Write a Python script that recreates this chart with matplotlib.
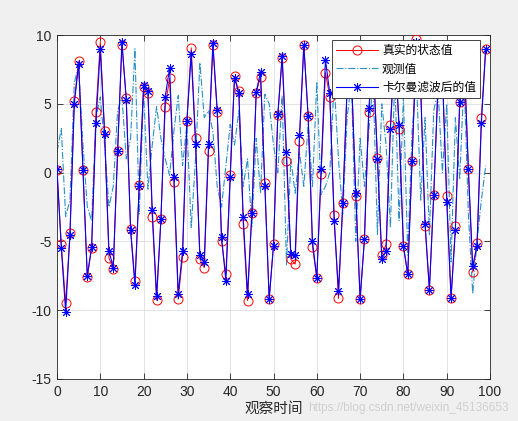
import matplotlib
matplotlib.use("Agg")
import matplotlib.pyplot as plt
import numpy as np

t = list(range(100))

true_state = [0.2, -5.2, -9.5, -4.4, 5.2, 8.1, 0.2, -7.6, -5.5, 4.4,
              9.5, 3.0, -6.2, -7.0, 1.6, 9.3, 5.4, -4.1, -7.9, -0.9,
              6.2, 5.75, -3.2, -9.27, -3.4, 4.8, 6.85, -0.7, -9.2, -6.1,
              3.75, 9.07, 2.5, -6.3, -6.9, 1.6, 9.27, 4.37, -5.0, -7.4,
              -0.2, 7.0, 5.9, -3.7, -9.3, -2.97, 5.8, 6.97, -0.74, -9.2,
              -5.2, 4.2, 8.35, 0.86, -6.3, -6.65, 2.3, 9.27, 4.1, -5.4,
              -7.65, -0.13, 7.27, 5.5, -3.05, -9.15, -2.24, 6.3, 7.2, -1.72,
              -9.2, -4.83, 4.37, 8.4, 1.03, -6.0, -5.2, 3.48, 9.3, 3.14,
              -5.35, -7.4, 0.87, 9.7, 6.0, -3.9, -8.5, -1.64, 6.5, 7.3,
              -1.7, -9.1, -3.9, 5.15, 8.6, 0.24, -7.25, -5.15, 4.0, 9.0]

observed = [1.5, 3.2, -3.2, -2.0, 6.5, 7.8, 2.0, -2.5, -3.5, 4.0,
            5.5, 2.0, -2.5, -1.0, 4.5, 5.5, 1.0, 2.5, 9.0, -3.0,
            5.9, -1.2, 2.0, 4.8, 2.5, 1.0, -0.2, 3.0, 5.6, 0.5,
            3.5, -4.0, 1.0, 8.0, 4.0, 4.5, 3.0, -1.0, -2.5, 0.5,
            3.5, 2.0, 4.5, -1.0, 1.0, -4.0, 2.5, -1.5, 5.7, 5.0,
            2.0, 0.0, 5.6, -6.7, 1.0, -1.5, 1.5, -1.0, 3.5, -1.0,
            6.6, -1.6, -1.0, 0.0, 6.6, 1.0, -3.0, 4.0, 6.6, -5.0,
            2.5, -1.0, 3.0, 6.6, -4.5, 5.0, 2.0, -4.0, 7.0, -3.5,
            5.5, -6.0, 3.0, 7.0, -2.0, 4.0, -4.5, 4.5, 6.0, 0.0,
            5.0, -6.5, 4.0, -0.5, 7.0, -3.0, -8.8, -5.0, -2.0, 0.5]

filtered = [0.23, -5.5, -10.1, -4.5, 5.0, 7.9, 0.2, -7.5, -5.4, 3.6,
            9.0, 2.8, -5.7, -6.9, 1.56, 9.5, 5.27, -4.2, -8.2, -0.96,
            6.35, 5.9, -2.7, -9.0, -3.4, 5.5, 7.6, -0.3, -8.8, -5.7,
            3.77, 8.6, 2.05, -6.0, -6.5, 2.1, 9.4, 4.55, -4.66, -7.86,
            -0.3, 6.9, 5.75, -3.2, -8.85, -2.97, 5.85, 7.3, -0.98, -9.2,
            -5.3, 4.25, 8.5, 1.47, -5.9, -6.0, 2.7, 9.27, 4.1, -5.0,
            -7.65, 0.27, 8.2, 5.75, -3.5, -8.6, -2.24, 6.2, 7.0, -1.5,
            -9.2, -4.83, 4.66, 8.3, 1.0, -6.3, -5.7, 3.2, 9.2, 3.45,
            -5.35, -7.4, 0.87, 9.5, 6.0, -3.7, -8.5, -1.64, 6.4, 7.2,
            -2.1, -9.1, -4.2, 5.15, 8.5, 0.24, -6.8, -5.3, 3.6, 9.0]

legend_labels = ["真实的状态值", "观测值", "卡尔曼滤波后的值"]
x_label = "观察时间"
watermark = "https://blog.csdn.net/weixin_45136653"

plt.rcParams['axes.unicode_minus'] = False
plt.rcParams['font.family'] = ['Liberation Sans', 'Noto Sans CJK SC', 'DejaVu Sans']

fig = plt.figure(figsize=(5.18, 4.21), dpi=100, facecolor='#f0f0f0')
ax = fig.add_axes([0.110, 0.0998, 0.836, 0.817])
ax.set_facecolor('white')

ax.plot(t, true_state, color='red', lw=0.7, marker='o', ms=6.5,
        mfc='none', mec='red', mew=0.7, label=legend_labels[0], zorder=3)
ax.plot(t, observed, color='#2a90c6', lw=0.8, ls='-.',
        label=legend_labels[1], zorder=2)
ax.plot(t, filtered, color='blue', lw=0.8, marker=(8, 2, 0), ms=6.5,
        mec='blue', mew=0.7, label=legend_labels[2], zorder=4)

ax.set_xlim(0, 100)
ax.set_ylim(-15, 10)
ax.set_xticks(np.arange(0, 101, 10))
ax.set_yticks(np.arange(-15, 11, 5))
ax.grid(True, color='#dedede', lw=0.6)
ax.set_axisbelow(True)
ax.tick_params(direction='in', top=True, right=True, length=4, width=0.6,
               labelsize=10, colors='#262626', pad=4)
for s in ax.spines.values():
    s.set_color('#262626')
    s.set_linewidth(0.6)

ax.set_xlabel(x_label, family=['Noto Sans CJK SC'], fontsize=10.5,
              color='#262626', labelpad=2)

leg = ax.legend(loc='upper right', bbox_to_anchor=(0.977, 0.985),
                borderaxespad=0, prop={'family': ['Noto Sans CJK SC'], 'size': 8.5},
                fancybox=False, framealpha=1, edgecolor='#262626',
                handlelength=3.5, handletextpad=0.35, labelspacing=0.45,
                borderpad=0.35)
leg.get_frame().set_linewidth(0.6)

fig.text(0.595, 0.030, watermark, fontsize=8.5, color='#d0d0d0',
         ha='left', va='center')

fig.savefig('out.png', dpi=100, facecolor=fig.get_facecolor())
